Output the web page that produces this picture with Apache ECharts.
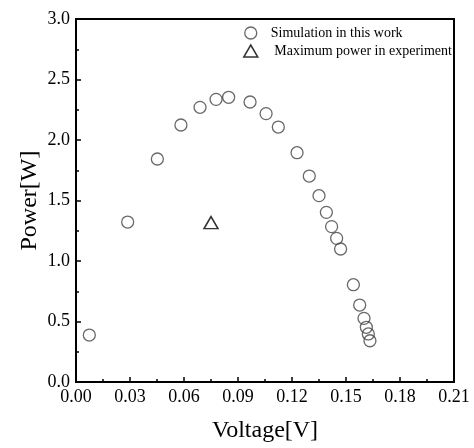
<!DOCTYPE html>
<html lang="en">
<head>
    <meta charset="UTF-8">
    <title>Power vs Voltage</title>
    <script type="text/javascript" src="https://cdn.jsdelivr.net/npm/echarts@6/dist/echarts.min.js"></script>
    <style>
        html, body { margin: 0; padding: 0; background: #fff; }
    </style>
</head>
<body>
<div id="main" style="width:474px;height:448px;"></div>
</body>

<script>
    // simulated P-V points
    let simVoltage = [0.0074, 0.0287, 0.0452, 0.0583, 0.0689, 0.0778, 0.0848, 0.0967, 0.1056, 0.1124,
        0.1228, 0.1296, 0.1350, 0.1391, 0.1420, 0.1448, 0.1470, 0.1541, 0.1576, 0.1600,
        0.1613, 0.1624, 0.1633]
    let simPower = [0.388, 1.322, 1.843, 2.124, 2.270, 2.336, 2.353, 2.314, 2.218, 2.107,
        1.895, 1.702, 1.540, 1.402, 1.284, 1.187, 1.099, 0.804, 0.636, 0.526,
        0.452, 0.397, 0.341]
    let expVoltage = [0.075]
    let expPower = [1.317]

    let simName = 'Simulation in this work'
    let expName = ' Maximum power in experiment'
    const serif = '"Liberation Serif", "Times New Roman", serif'

    let simData = simVoltage.map((v, i) => [v, simPower[i]])
    let expData = expVoltage.map((v, i) => [v, expPower[i]])

    let myChart = echarts.init(document.getElementById('main'));

    let axisCommon = {
        axisLine: {show: true, onZero: false, lineStyle: {color: '#000', width: 2}},
        axisTick: {show: true, inside: true, length: 5, lineStyle: {color: '#000', width: 1.5}},
        minorTick: {show: true, splitNumber: 2, length: 3, lineStyle: {color: '#000', width: 1.5}},
        splitLine: {show: false},
        nameMoveOverlap: false,
        nameTextStyle: {color: '#000', fontFamily: serif, fontSize: 24},
    }

    let option = {
        animation: false,
        backgroundColor: '#fff',
        grid: {
            left: 76, right: 20, top: 19, bottom: 66,
            show: true, borderColor: '#000', borderWidth: 2, backgroundColor: 'transparent'
        },
        legend: {
            orient: 'vertical',
            left: 238,
            top: 21,
            itemWidth: 14,
            itemHeight: 12,
            itemGap: 4,
            textStyle: {fontFamily: serif, fontSize: 14, color: '#000', padding: [0, 0, 0, 8]},
            data: [
                {name: simName, icon: 'circle',
                    itemStyle: {color: 'rgba(0,0,0,0)', borderColor: '#444', borderWidth: 1.3}},
                {name: expName, icon: 'triangle',
                    itemStyle: {color: 'rgba(0,0,0,0)', borderColor: '#000', borderWidth: 1.5}}
            ]
        },
        xAxis: Object.assign({}, axisCommon, {
            type: 'value',
            min: 0,
            max: 0.21,
            interval: 0.03,
            name: 'Voltage[V]',
            nameLocation: 'middle',
            nameGap: 37,
            axisLabel: {
                color: '#000', fontFamily: serif, fontSize: 18, margin: 6,
                formatter: v => v.toFixed(2)
            }
        }),
        yAxis: Object.assign({}, axisCommon, {
            type: 'value',
            min: 0,
            max: 3,
            interval: 0.5,
            name: 'Power[W]',
            nameLocation: 'middle',
            nameGap: 34,
            axisLabel: {
                color: '#000', fontFamily: serif, fontSize: 18, margin: 6,
                formatter: v => v.toFixed(1)
            }
        }),
        series: [
            {
                name: simName,
                type: 'scatter',
                data: simData,
                symbol: 'circle',
                symbolSize: 12,
                itemStyle: {color: 'rgba(0,0,0,0)', borderColor: '#444', borderWidth: 1.3}
            },
            {
                name: expName,
                type: 'scatter',
                data: expData,
                symbol: 'triangle',
                symbolSize: [14, 12],
                itemStyle: {color: 'rgba(0,0,0,0)', borderColor: '#000', borderWidth: 1.5}
            }
        ]
    }
    myChart.setOption(option);
</script>
</html>
